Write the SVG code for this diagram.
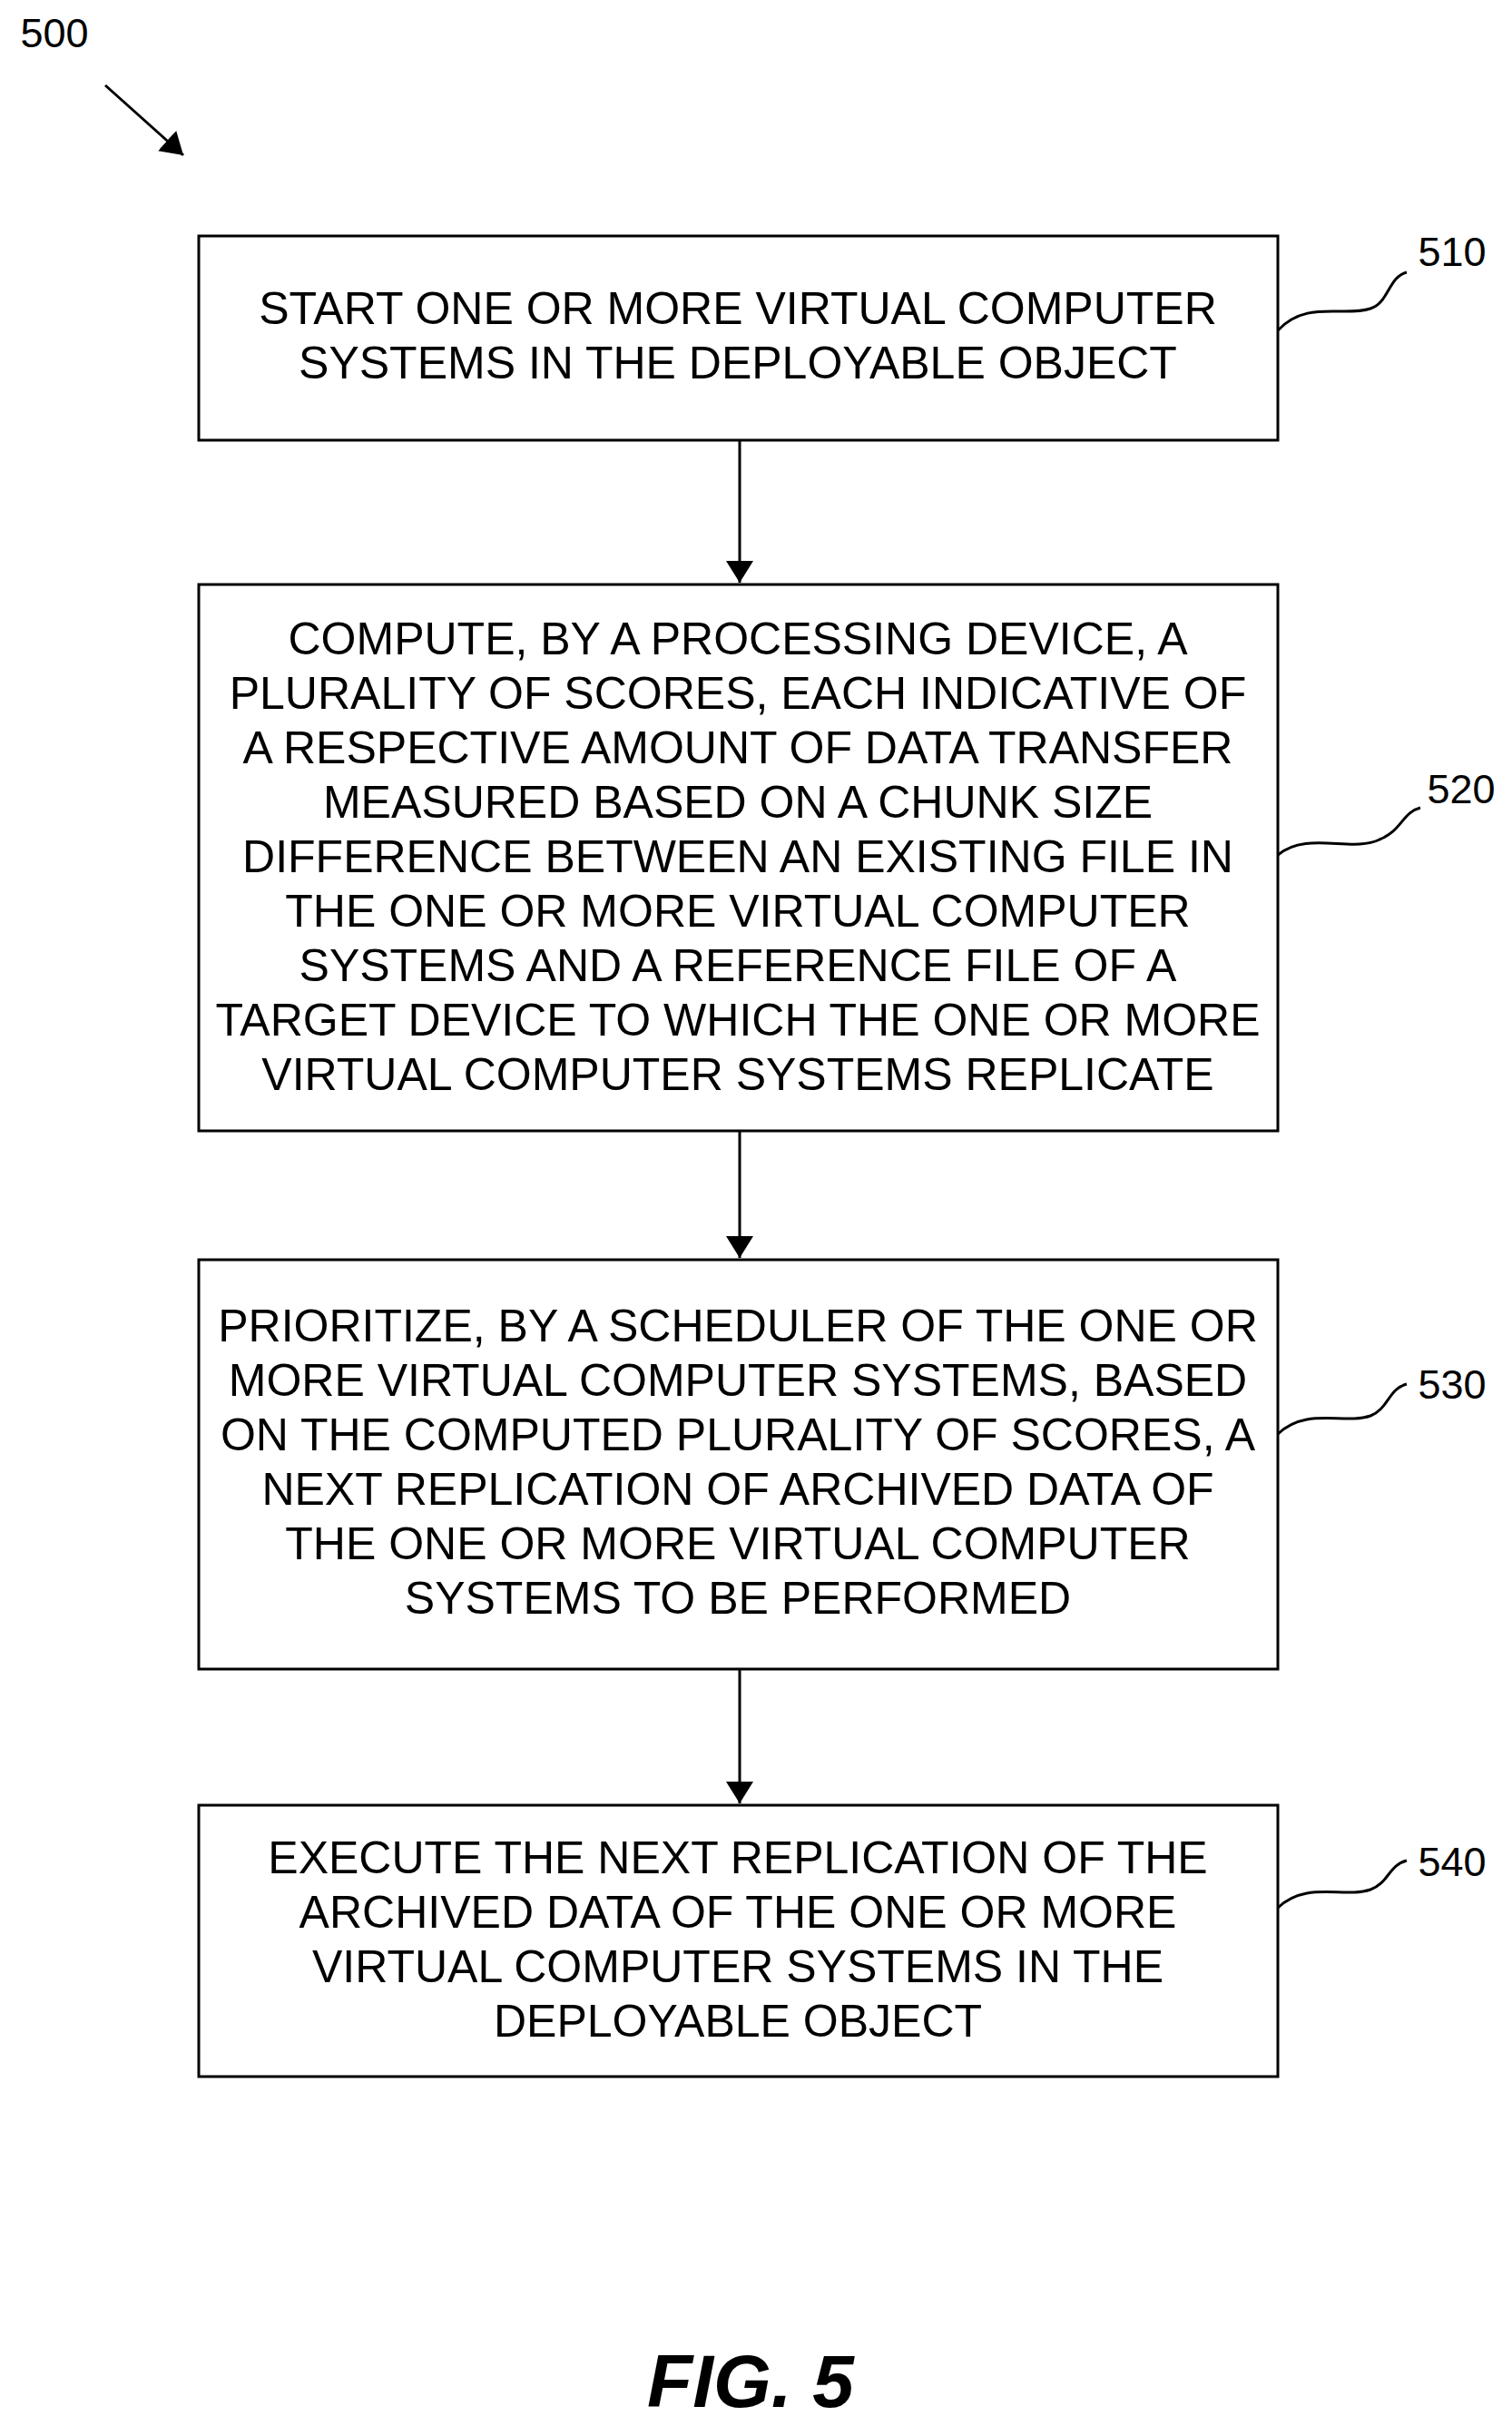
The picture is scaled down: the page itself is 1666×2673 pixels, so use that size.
<svg xmlns="http://www.w3.org/2000/svg" width="1666" height="2673" viewBox="0 0 1666 2673">
<style>
.box{fill:#fff;stroke:#000;stroke-width:3}
.t{font-family:"Liberation Sans",Arial,sans-serif;font-size:50px;text-anchor:middle;fill:#000}
.lbl{font-family:"Liberation Sans",Arial,sans-serif;font-size:45px;text-anchor:middle;fill:#000}
.c{fill:none;stroke:#000;stroke-width:3}
</style>
<defs><marker id="a2" markerWidth="24" markerHeight="30" refX="24" refY="15" orient="auto" markerUnits="userSpaceOnUse" viewBox="0 0 24 30"><path d="M0,0 L24,15 L0,30 z" fill="#000"/></marker></defs>
<rect width="1666" height="2673" fill="#fff"/>
<text class="lbl" x="60" y="52">500</text>
<g id="connectors">
<line class="c" x1="116" y1="94" x2="202" y2="171" marker-end="url(#a2)"/>
<line class="c" x1="815" y1="485" x2="815" y2="642" marker-end="url(#a2)"/>
<line class="c" x1="815" y1="1246" x2="815" y2="1386" marker-end="url(#a2)"/>
<line class="c" x1="815" y1="1839" x2="815" y2="1987" marker-end="url(#a2)"/>
<path class="c" d="M1408,364 C1440,330 1480,350 1510,340 C1530,334 1530,305 1550,300"/>
<path class="c" d="M1408,942 C1440,915 1490,940 1520,925 C1545,915 1545,895 1565,890"/>
<path class="c" d="M1408,1580 C1440,1550 1480,1570 1510,1560 C1530,1552 1530,1530 1550,1525"/>
<path class="c" d="M1408,2102 C1440,2072 1480,2092 1510,2082 C1530,2075 1530,2055 1550,2050"/>
</g>
<g id="n510"><rect class="box" x="219" y="260" width="1189" height="225"/>
<text class="t" x="813" y="357">START ONE OR MORE VIRTUAL COMPUTER</text>
<text class="t" x="813" y="417">SYSTEMS IN THE DEPLOYABLE OBJECT</text>
<text class="lbl" x="1600" y="293">510</text></g>
<g id="n520"><rect class="box" x="219" y="644" width="1189" height="602"/>
<text class="t" x="813" y="721">COMPUTE, BY A PROCESSING DEVICE, A</text>
<text class="t" x="813" y="781">PLURALITY OF SCORES, EACH INDICATIVE OF</text>
<text class="t" x="813" y="841">A RESPECTIVE AMOUNT OF DATA TRANSFER</text>
<text class="t" x="813" y="901">MEASURED BASED ON A CHUNK SIZE</text>
<text class="t" x="813" y="961">DIFFERENCE BETWEEN AN EXISTING FILE IN</text>
<text class="t" x="813" y="1021">THE ONE OR MORE VIRTUAL COMPUTER</text>
<text class="t" x="813" y="1081">SYSTEMS AND A REFERENCE FILE OF A</text>
<text class="t" x="813" y="1141">TARGET DEVICE TO WHICH THE ONE OR MORE</text>
<text class="t" x="813" y="1201">VIRTUAL COMPUTER SYSTEMS REPLICATE</text>
<text class="lbl" x="1610" y="885">520</text></g>
<g id="n530"><rect class="box" x="219" y="1388" width="1189" height="451"/>
<text class="t" x="813" y="1478">PRIORITIZE, BY A SCHEDULER OF THE ONE OR</text>
<text class="t" x="813" y="1538">MORE VIRTUAL COMPUTER SYSTEMS, BASED</text>
<text class="t" x="813" y="1598">ON THE COMPUTED PLURALITY OF SCORES, A</text>
<text class="t" x="813" y="1658">NEXT REPLICATION OF ARCHIVED DATA OF</text>
<text class="t" x="813" y="1718">THE ONE OR MORE VIRTUAL COMPUTER</text>
<text class="t" x="813" y="1778">SYSTEMS TO BE PERFORMED</text>
<text class="lbl" x="1600" y="1541">530</text></g>
<g id="n540"><rect class="box" x="219" y="1989" width="1189" height="299"/>
<text class="t" x="813" y="2064">EXECUTE THE NEXT REPLICATION OF THE</text>
<text class="t" x="813" y="2124">ARCHIVED DATA OF THE ONE OR MORE</text>
<text class="t" x="813" y="2184">VIRTUAL COMPUTER SYSTEMS IN THE</text>
<text class="t" x="813" y="2244">DEPLOYABLE OBJECT</text>
<text class="lbl" x="1600" y="2067">540</text></g>
<text x="827" y="2652" style="font-family:'Liberation Sans',Arial,sans-serif;font-size:82px;font-weight:bold;font-style:italic;text-anchor:middle">FIG. 5</text>
</svg>
